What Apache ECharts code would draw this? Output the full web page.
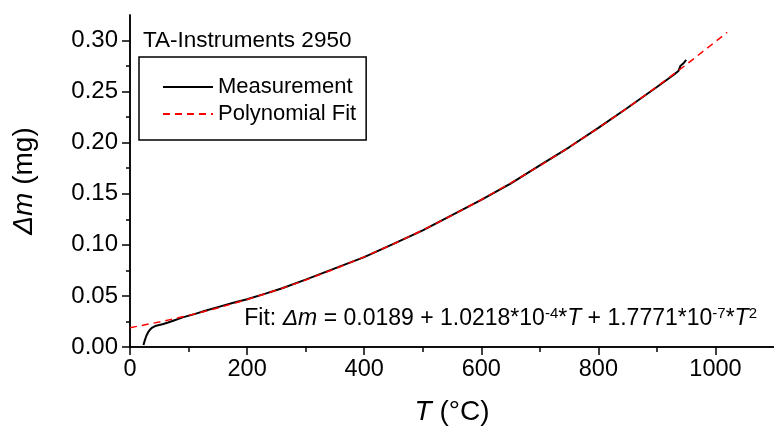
<!DOCTYPE html>
<html>
<head>
<meta charset="utf-8">
<script src="https://cdn.jsdelivr.net/npm/echarts@6/dist/echarts.min.js"></script>
<style>html,body{margin:0;padding:0;background:#fff}#c{width:774px;height:431px}</style>
</head>
<body>
<div id="c"></div>
<script>
const measT = [23, 25, 28, 31, 34, 38, 43, 50, 57, 65, 75, 90, 110, 130, 150, 175, 200, 230, 260, 300, 350, 400, 450, 500, 550, 600, 650, 700, 750, 800, 850, 900, 930, 937, 940, 945, 950];
const measV = [0.002, 0.006, 0.011, 0.0145, 0.0168, 0.019, 0.0205, 0.0215, 0.0225, 0.024, 0.026, 0.0290, 0.0322, 0.0357, 0.0390, 0.0430, 0.0468, 0.0520, 0.0575, 0.0660, 0.0770, 0.0880, 0.1010, 0.1142, 0.1290, 0.1440, 0.1600, 0.1778, 0.1955, 0.2145, 0.2342, 0.2545, 0.2670, 0.2705, 0.2750, 0.2775, 0.2810];
// Polynomial fit
const fitT = [0, 50, 100, 150, 200, 250, 300, 350, 400, 450, 500, 550, 600, 650, 700, 750, 800, 850, 900, 950, 1020];
const fitV = [0.0189, 0.02445, 0.0309, 0.03823, 0.04644, 0.05555, 0.06555, 0.07643, 0.08821, 0.10087, 0.11442, 0.12886, 0.14418, 0.1604, 0.1775, 0.1955, 0.21438, 0.23415, 0.25481, 0.27635, 0.30801];
// Ticks
const xMajor = [0, 200, 400, 600, 800, 1000];
const xMinor = [100, 300, 500, 700, 900];
const yMajor = [0, 0.05, 0.10, 0.15, 0.20, 0.25, 0.30];
const yMinor = [0.025, 0.075, 0.125, 0.175, 0.225, 0.275];
const seriesNames = ['Measurement', 'Polynomial Fit'];

const FONT = 'Liberation Sans, Arial, sans-serif';
const chart = echarts.init(document.getElementById('c'), null, {renderer: 'canvas'});
const axLine = {show: true, lineStyle: {color: '#000', width: 1.5}};
const noLine = {show: false};
const xBase = {type: 'value', min: 0, max: 1100, splitLine: {show: false}};
const yBase = {type: 'value', min: 0, max: 0.325, splitLine: {show: false}};

const option = {
  animation: false,
  backgroundColor: '#fff',
  grid: {left: 130, top: 15, width: 651.75, height: 334},
  xAxis: [
    Object.assign({}, xBase, {
      position: 'bottom',
      axisLine: axLine,
      axisTick: {show: true, inside: false, length: 8, customValues: xMajor, lineStyle: {color: '#000', width: 1.5}},
      axisLabel: {show: true, customValues: xMajor, margin: 11, color: '#000', fontSize: 23.5, fontFamily: FONT,
        formatter: v => String(v)},
      name: '{i|T} (°C)', nameLocation: 'middle', nameGap: 51,
      nameTextStyle: {color: '#000', fontSize: 28, fontFamily: FONT, rich: {i: {fontStyle: 'italic', fontSize: 28, fontFamily: FONT, color: '#000'}}}
    }),
    Object.assign({}, xBase, {
      position: 'bottom', axisLine: noLine,
      axisTick: {show: true, inside: false, length: 5, customValues: xMinor, lineStyle: {color: '#000', width: 1.5}},
      axisLabel: {show: false}
    }),
    Object.assign({}, xBase, {
      position: 'top', axisLine: axLine,
      axisTick: {show: true, inside: true, length: 8, customValues: xMajor, lineStyle: {color: '#000', width: 1.5}},
      axisLabel: {show: false}
    }),
    Object.assign({}, xBase, {
      position: 'top', axisLine: noLine,
      axisTick: {show: true, inside: true, length: 5, customValues: xMinor, lineStyle: {color: '#000', width: 1.5}},
      axisLabel: {show: false}
    })
  ],
  yAxis: [
    Object.assign({}, yBase, {
      position: 'left',
      axisLine: axLine,
      axisTick: {show: true, inside: false, length: 8, customValues: yMajor, lineStyle: {color: '#000', width: 1.5}},
      axisLabel: {show: true, customValues: yMajor, margin: 12, color: '#000', fontSize: 24, fontFamily: FONT,
        formatter: v => v.toFixed(2)},
      name: '{i|Δm} (mg)', nameLocation: 'middle', nameGap: 92, nameRotate: 90,
      nameTextStyle: {color: '#000', fontSize: 28, fontFamily: FONT, rich: {i: {fontStyle: 'italic', fontSize: 28, fontFamily: FONT, color: '#000'}}}
    }),
    Object.assign({}, yBase, {
      position: 'left', axisLine: noLine,
      axisTick: {show: true, inside: false, length: 4, customValues: yMinor, lineStyle: {color: '#000', width: 1.5}},
      axisLabel: {show: false}
    }),
    Object.assign({}, yBase, {
      position: 'right', axisLine: axLine,
      axisTick: {show: true, inside: true, length: 8, customValues: yMajor, lineStyle: {color: '#000', width: 1.5}},
      axisLabel: {show: false}
    }),
    Object.assign({}, yBase, {
      position: 'right', axisLine: noLine,
      axisTick: {show: true, inside: true, length: 4, customValues: yMinor, lineStyle: {color: '#000', width: 1.5}},
      axisLabel: {show: false}
    })
  ],
  legend: {
    show: true, orient: 'vertical', left: 139, top: 57,
    padding: [19, 10, 15, 23], itemGap: 5, itemWidth: 50, itemHeight: 14, itemTextGap: 8,
    borderColor: '#000', borderWidth: 1.5, borderRadius: 0, backgroundColor: '#fff',
    itemStyle: {opacity: 0, borderWidth: 0},
    textStyle: {color: '#000', fontSize: 22, fontFamily: FONT, lineHeight: 22},
    data: seriesNames
  },
  graphic: [
    {type: 'text', left: 143, top: 29, z: 100,
      style: {text: 'TA-Instruments 2950', fill: '#000', font: '22.5px ' + FONT}},
    {type: 'text', right: 17, top: 306, z: 100,
      style: {
        text: 'Fit: {i|Δm} = 0.0189 + 1.0218*10{s|-4}*{i|T} + 1.7771*10{s|-7}*{i|T}{s|2}',
        fill: '#000', font: '23px ' + FONT, fontSize: 23, fontFamily: FONT, lineHeight: 25,
        rich: {
          i: {fontStyle: 'italic', fontSize: 23, fontFamily: FONT, fill: '#000', lineHeight: 25},
          s: {fontSize: 15, fontFamily: FONT, fill: '#000', lineHeight: 15, verticalAlign: 'top'}
        }
      }}
  ],
  series: [
    {name: seriesNames[0], type: 'line', xAxisIndex: 0, yAxisIndex: 0, showSymbol: false, symbol: 'none',
      lineStyle: {color: '#000', width: 2}, itemStyle: {color: '#000'}, z: 2,
      data: measT.map((t, i) => [t, measV[i]])},
    {name: seriesNames[1], type: 'line', xAxisIndex: 0, yAxisIndex: 0, showSymbol: false, symbol: 'none',
      lineStyle: {color: '#ff0000', width: 1.5, type: [7, 5]}, itemStyle: {color: '#ff0000'}, z: 3,
      data: fitT.map((t, i) => [t, fitV[i]])}
  ]
};
chart.setOption(option);
</script>
</body>
</html>
